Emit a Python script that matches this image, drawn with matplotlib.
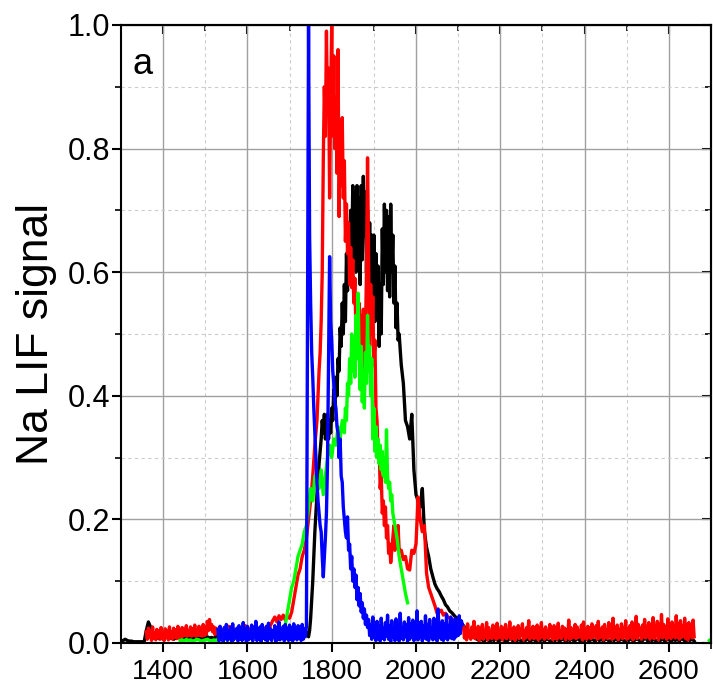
import numpy as np
import matplotlib
matplotlib.use("Agg")
import matplotlib.pyplot as plt
from matplotlib.ticker import MultipleLocator

plt.rcParams['font.family'] = ['Liberation Sans', 'DejaVu Sans']

# each trace is stored as pieces: (first x, x step, y values)

# ---- black trace ----
black_1300 = [0.003, 0.004, 0.006, 0.004, 0.003, 0.003, 0.002, 0.002, 0.002, 0.002, 0.002, 0.002]
black_1360 = [0.020, 0.034, 0.026, 0.012, 0.008, 0.010, 0.007, 0.009, 0.006, 0.008,
              0.010, 0.007, 0.009, 0.006, 0.008, 0.011, 0.007, 0.009, 0.008, 0.006,
              0.010, 0.008, 0.007, 0.009, 0.011, 0.008, 0.006, 0.009, 0.007, 0.010,
              0.008, 0.009, 0.007, 0.011, 0.008, 0.010, 0.006, 0.009, 0.008, 0.010,
              0.007, 0.009, 0.011, 0.008, 0.010, 0.007, 0.009, 0.008, 0.010, 0.012,
              0.009, 0.011, 0.008, 0.010, 0.009, 0.012, 0.010, 0.008, 0.011, 0.009,
              0.012, 0.010, 0.011, 0.009, 0.012, 0.010, 0.013, 0.011, 0.010, 0.012,
              0.011, 0.013, 0.012, 0.014, 0.015, 0.016, 0.018]
black_1745 = [0.010, 0.020, 0.040, 0.070, 0.100, 0.140, 0.180, 0.210, 0.240, 0.260,
              0.290, 0.310, 0.330, 0.360, 0.340, 0.370, 0.330, 0.350, 0.370, 0.330,
              0.360, 0.340, 0.380, 0.360, 0.410, 0.380, 0.430, 0.400, 0.460, 0.440,
              0.510, 0.480, 0.550, 0.500, 0.580, 0.520, 0.630, 0.570, 0.660, 0.600,
              0.700, 0.630, 0.740, 0.620, 0.730, 0.600, 0.740, 0.620, 0.720, 0.580,
              0.740, 0.620, 0.755, 0.660, 0.730, 0.600, 0.700, 0.580, 0.680, 0.560,
              0.660, 0.540, 0.660, 0.520, 0.630, 0.550, 0.610, 0.480, 0.580, 0.500,
              0.670, 0.580, 0.710, 0.600, 0.700, 0.570, 0.690, 0.560, 0.710, 0.600,
              0.660, 0.550, 0.610, 0.510, 0.550, 0.490, 0.500]
black_1965 = [0.450, 0.420, 0.360, 0.350, 0.330, 0.370, 0.280, 0.240, 0.230, 0.220,
              0.250, 0.180, 0.155, 0.140, 0.120, 0.107, 0.095, 0.088, 0.083, 0.076,
              0.070, 0.062, 0.058, 0.052, 0.049, 0.045, 0.041, 0.038, 0.034, 0.030,
              0.026, 0.022, 0.018, 0.013, 0.010, 0.008]
black_2145 = [0.006, 0.004, 0.008, 0.003, 0.005, 0.007, 0.002, 0.006, 0.004, 0.009,
              0.003, 0.005, 0.007, 0.004, 0.002, 0.006, 0.008, 0.003, 0.005, 0.004,
              0.007, 0.002, 0.006, 0.004, 0.008, 0.003, 0.005, 0.006, 0.002, 0.007,
              0.004, 0.006, 0.003, 0.008, 0.005, 0.002, 0.006, 0.004, 0.007, 0.003,
              0.005, 0.008, 0.002, 0.006, 0.004, 0.007, 0.003, 0.005, 0.009, 0.002,
              0.006, 0.004, 0.007, 0.003, 0.005, 0.006, 0.002, 0.008, 0.004, 0.006,
              0.003, 0.007, 0.005, 0.002, 0.006, 0.004, 0.008, 0.003, 0.005, 0.007,
              0.002, 0.006, 0.004, 0.009, 0.003, 0.005, 0.007, 0.004, 0.002, 0.006,
              0.008, 0.003, 0.005, 0.004, 0.007, 0.002, 0.006, 0.004, 0.008, 0.003,
              0.005, 0.006, 0.002, 0.007, 0.004, 0.006, 0.003, 0.008, 0.005, 0.002,
              0.006, 0.004, 0.007, 0.003]

# ---- red trace ----
red_1360 = [0.018, 0.006, 0.024, 0.009, 0.020, 0.004, 0.026, 0.008, 0.016, 0.005,
            0.022, 0.010, 0.019, 0.006, 0.025, 0.007, 0.017, 0.004, 0.023, 0.009,
            0.020, 0.005, 0.026, 0.008, 0.018, 0.006, 0.024, 0.010, 0.021, 0.007,
            0.027, 0.008, 0.019, 0.005, 0.025, 0.011, 0.022, 0.012, 0.028, 0.011,
            0.020, 0.012, 0.026, 0.011, 0.023, 0.013, 0.029, 0.011, 0.021, 0.012,
            0.027, 0.013, 0.024, 0.011, 0.030, 0.012, 0.026, 0.014, 0.035, 0.020,
            0.038, 0.022, 0.030, 0.018, 0.026, 0.014, 0.024, 0.015]
red_1530 = [0.020, 0.026, 0.015, 0.023, 0.018, 0.027, 0.016, 0.024, 0.019, 0.022,
            0.017, 0.025, 0.020, 0.028, 0.016, 0.023, 0.019, 0.026, 0.021, 0.024,
            0.018, 0.027, 0.022, 0.025, 0.020, 0.029,
            0.036, 0.042, 0.034, 0.044, 0.038, 0.045, 0.037, 0.043, 0.040,
            0.050, 0.070, 0.090, 0.110, 0.120, 0.140, 0.150, 0.170, 0.200, 0.230,
            0.270, 0.320, 0.360]
red_1770 = [0.440, 0.470, 0.520, 0.600, 0.780, 0.900, 0.820, 0.990, 0.860, 0.930,
            0.720, 0.880, 1.000, 0.820, 0.950, 0.800, 0.860, 0.760, 0.960, 0.690,
            0.820, 0.740, 0.850, 0.720, 0.780, 0.650, 0.710, 0.630, 0.680, 0.580,
            0.640, 0.575, 0.620, 0.550, 0.590, 0.500, 0.560, 0.520, 0.550, 0.470,
            0.530, 0.450, 0.540, 0.420, 0.500, 0.600, 0.785, 0.620, 0.480, 0.580,
            0.500, 0.560, 0.450, 0.490, 0.380, 0.360, 0.300, 0.320, 0.250, 0.270,
            0.210, 0.230, 0.190, 0.220, 0.170, 0.190, 0.145, 0.160, 0.130, 0.150,
            0.170, 0.190, 0.150, 0.180, 0.160, 0.190, 0.150]
red_1965 = [0.150, 0.135, 0.140, 0.120, 0.118, 0.150, 0.145, 0.160, 0.236, 0.200,
            0.180, 0.190, 0.113, 0.090, 0.080, 0.070, 0.060, 0.048, 0.050, 0.053,
            0.045, 0.048, 0.042, 0.040, 0.038, 0.037, 0.034, 0.035, 0.032, 0.030]
red_2112 = [0.028, 0.008, 0.022, 0.005, 0.031, 0.010, 0.019, 0.006, 0.026, 0.009,
            0.035, 0.007, 0.021, 0.011, 0.027, 0.004, 0.024, 0.008, 0.030, 0.006,
            0.020, 0.010, 0.033, 0.005, 0.025, 0.009, 0.018, 0.007, 0.029, 0.012,
            0.023, 0.006, 0.032, 0.008, 0.019, 0.010, 0.027, 0.005, 0.024, 0.009,
            0.030, 0.007, 0.021, 0.011, 0.034, 0.006, 0.022, 0.008, 0.026, 0.004,
            0.019, 0.009, 0.028, 0.007, 0.023, 0.012, 0.031, 0.005, 0.020, 0.008,
            0.025, 0.010, 0.036, 0.006, 0.022, 0.009, 0.027, 0.007, 0.018, 0.011,
            0.029, 0.005, 0.024, 0.008, 0.033, 0.010, 0.021, 0.006, 0.026, 0.009,
            0.020, 0.007, 0.030, 0.011, 0.023, 0.005, 0.028, 0.008, 0.025, 0.006,
            0.032, 0.009, 0.019, 0.007, 0.027, 0.012, 0.024, 0.005, 0.021, 0.010,
            0.037, 0.006, 0.025, 0.008, 0.022, 0.010, 0.030, 0.007, 0.026, 0.009,
            0.020, 0.011, 0.029, 0.005, 0.034, 0.008, 0.023, 0.006, 0.027, 0.010,
            0.024, 0.007, 0.031, 0.009, 0.019, 0.012, 0.028, 0.006, 0.035, 0.008,
            0.022, 0.010, 0.026, 0.005, 0.030, 0.009, 0.021, 0.007, 0.033, 0.011,
            0.027, 0.006, 0.040, 0.008, 0.024, 0.010, 0.029, 0.005, 0.022, 0.009,
            0.031, 0.007, 0.025, 0.011, 0.036, 0.006, 0.023, 0.008, 0.028, 0.010,
            0.034, 0.005, 0.026, 0.009, 0.043, 0.007, 0.030, 0.012, 0.024, 0.006,
            0.029, 0.010, 0.038, 0.008, 0.027, 0.011, 0.033, 0.006, 0.025, 0.009,
            0.041, 0.007, 0.028, 0.012, 0.035, 0.005, 0.031, 0.010, 0.046, 0.008,
            0.030, 0.011, 0.026, 0.006, 0.039, 0.009, 0.029, 0.007, 0.034, 0.012,
            0.027, 0.008, 0.044, 0.010, 0.031, 0.006, 0.036, 0.009, 0.028, 0.011,
            0.040, 0.007, 0.030, 0.005, 0.033, 0.012, 0.029, 0.008, 0.037, 0.010]

# ---- green trace ----
green_1440 = [0.004, 0.005, 0.003, 0.006, 0.004, 0.005, 0.003, 0.004, 0.006, 0.005,
              0.003, 0.004, 0.005, 0.006, 0.004, 0.003, 0.005, 0.004, 0.006,
              0.006, 0.008, 0.005, 0.009, 0.007, 0.006, 0.010, 0.008, 0.007, 0.009,
              0.006, 0.008, 0.010, 0.007, 0.009, 0.008, 0.011, 0.009, 0.010, 0.008,
              0.012, 0.010, 0.009, 0.011, 0.013, 0.010, 0.012, 0.014, 0.013, 0.016,
              0.020, 0.030, 0.050, 0.070, 0.090, 0.100, 0.120, 0.140, 0.150, 0.160,
              0.180, 0.190, 0.220, 0.250, 0.230, 0.270, 0.260, 0.250, 0.280, 0.240,
              0.270, 0.300, 0.320, 0.300, 0.330, 0.320, 0.350, 0.330, 0.360]
green_1830 = [0.340, 0.380, 0.360, 0.420, 0.400, 0.460, 0.420, 0.500, 0.440, 0.490,
              0.430, 0.530, 0.460, 0.566, 0.470, 0.410, 0.480, 0.390, 0.440, 0.380,
              0.470, 0.420, 0.530, 0.440, 0.480, 0.400, 0.460, 0.330, 0.380, 0.310,
              0.350, 0.300, 0.330, 0.290, 0.320, 0.280, 0.310, 0.270, 0.300, 0.260,
              0.345, 0.270, 0.250, 0.260, 0.230, 0.240, 0.210]
green_1950 = [0.190, 0.170, 0.140, 0.120, 0.100, 0.080, 0.065]
green_tail_x = [2696, 2700]
green_tail_y = [0.004, 0.006]

# ---- blue trace ----
blue_1530 = [0.022, 0.003, 0.027, 0.006, 0.018, 0.002, 0.025, 0.008, 0.030, 0.004,
             0.020, 0.007, 0.026, 0.002, 0.031, 0.005, 0.019, 0.009, 0.024, 0.003,
             0.028, 0.006, 0.021, 0.004, 0.033, 0.008, 0.023, 0.002, 0.027, 0.005,
             0.018, 0.007, 0.029, 0.003, 0.024, 0.009, 0.035, 0.004, 0.022, 0.006,
             0.026, 0.002, 0.030, 0.008, 0.020, 0.005, 0.027, 0.003, 0.032, 0.007,
             0.023, 0.004, 0.019, 0.009, 0.028, 0.002, 0.025, 0.006, 0.034, 0.005,
             0.021, 0.008, 0.027, 0.003, 0.030, 0.007, 0.024, 0.004, 0.029, 0.006,
             0.025, 0.003, 0.031, 0.008, 0.022, 0.005, 0.028, 0.009, 0.026, 0.004,
             0.030, 0.006, 0.023, 0.010, 0.027]
blue_1745 = [1.000, 0.660, 0.550, 0.470, 0.430, 0.380, 0.340, 0.300, 0.260, 0.230,
             0.210, 0.190, 0.180, 0.140, 0.107, 0.140, 0.170, 0.210, 0.290, 0.450,
             0.625, 0.520, 0.490, 0.440, 0.420, 0.390, 0.380, 0.350, 0.340, 0.300,
             0.330, 0.270, 0.260, 0.220, 0.200, 0.180, 0.170, 0.204, 0.150, 0.160,
             0.120, 0.140, 0.100, 0.120, 0.090, 0.110, 0.070, 0.090, 0.060, 0.080,
             0.050, 0.065, 0.040, 0.055, 0.030, 0.045, 0.025]
blue_1887 = [0.038, 0.012, 0.030, 0.006, 0.042, 0.010, 0.026, 0.004, 0.035, 0.009,
             0.028, 0.003, 0.040, 0.008, 0.024, 0.005, 0.033, 0.011, 0.045, 0.006,
             0.027, 0.002, 0.036, 0.009, 0.022, 0.004, 0.039, 0.007, 0.030, 0.003,
             0.048, 0.008, 0.025, 0.005, 0.034, 0.010, 0.029, 0.003, 0.041, 0.006,
             0.031, 0.009, 0.037, 0.004, 0.026, 0.007, 0.052, 0.005, 0.032, 0.010,
             0.035, 0.003, 0.028, 0.008, 0.044, 0.006, 0.030, 0.004, 0.038, 0.009,
             0.024, 0.005, 0.040, 0.007, 0.033, 0.003, 0.055, 0.010, 0.029, 0.006,
             0.036, 0.004, 0.031, 0.008, 0.046, 0.005, 0.027, 0.009, 0.042, 0.007,
             0.034, 0.006, 0.039, 0.010, 0.030, 0.012, 0.044, 0.015, 0.036, 0.030]


def join(*pieces):
    xs, ys = [], []
    for x0, dx, vals in pieces:
        xs.append(x0 + dx * np.arange(len(vals)))
        ys.append(np.array(vals))
    return np.concatenate(xs), np.concatenate(ys)


black_x, black_y = join((1300, 5, black_1300), (1360, 5, black_1360), (1745, 2.5, black_1745),
                        (1965, 5, black_1965), (2145, 5, black_2145))
red_x, red_y = join((1360, 2.5, red_1360), (1530, 5, red_1530), (1770, 2.5, red_1770),
                    (1965, 5, red_1965), (2112.5, 2.5, red_2112))
green_x, green_y = join((1440, 5, green_1440), (1830, 2.5, green_1830), (1950, 5, green_1950))
blue_x, blue_y = join((1530, 2.5, blue_1530), (1745, 2.5, blue_1745), (1887.5, 2.5, blue_1887))

fig = plt.figure(figsize=(7.13, 6.91), dpi=100)
ax = fig.add_axes([0.1697, 0.0695, 0.8275, 0.8944])

lw = 2.4
ax.plot(black_x, black_y, color='#000000', lw=lw)
ax.plot(red_x, red_y, color='#ff0000', lw=lw)
ax.plot(green_x, green_y, color='#00ff00', lw=lw)
ax.plot(green_tail_x, green_tail_y, color='#00ff00', lw=lw)
ax.plot(blue_x, blue_y, color='#0000ff', lw=lw)

ax.set_xlim(1300, 2700)
ax.set_ylim(0, 1.0)
xmaj = [1400, 1600, 1800, 2000, 2200, 2400, 2600]
ymaj = [0.0, 0.2, 0.4, 0.6, 0.8, 1.0]
ax.set_xticks(xmaj)
ax.set_yticks(ymaj)
ax.set_yticklabels(['0.0', '0.2', '0.4', '0.6', '0.8', '1.0'])
ax.xaxis.set_minor_locator(MultipleLocator(100))
ax.yaxis.set_minor_locator(MultipleLocator(0.1))

ax.grid(which='major', color='#a0a0a0', lw=1.0, ls='-')
ax.grid(which='minor', color='#cccccc', lw=0.8, ls=(0, (3, 3)))
ax.set_axisbelow(True)

for s in ax.spines.values():
    s.set_linewidth(1.5)
    s.set_color('black')

ax.tick_params(which='major', direction='out', length=6.5, width=1.5)
ax.tick_params(which='minor', direction='out', length=4, width=1.2)
ax.tick_params(axis='x', labelsize=20, pad=5)
ax.tick_params(axis='y', labelsize=22, pad=1)

top = ax.secondary_xaxis('top')
top.set_xticks(xmaj)
top.xaxis.set_minor_locator(MultipleLocator(100))
top.tick_params(which='major', direction='in', length=6.5, width=1.5, labeltop=False)
top.tick_params(which='minor', direction='in', length=4, width=1.2)
top.spines['top'].set_linewidth(1.5)

right = ax.secondary_yaxis('right')
right.set_yticks(ymaj)
right.yaxis.set_minor_locator(MultipleLocator(0.1))
right.tick_params(which='major', direction='in', length=6.5, width=1.5, labelright=False)
right.tick_params(which='minor', direction='in', length=4, width=1.2)
right.spines['right'].set_linewidth(1.5)

ax.set_ylabel('Na LIF signal', fontsize=32)
ax.yaxis.set_label_coords(-0.108, 0.5)

ax.text(0.019, 0.921, 'a', transform=ax.transAxes, fontsize=26, ha='left', va='baseline')

fig.savefig('out.png', dpi=100)
